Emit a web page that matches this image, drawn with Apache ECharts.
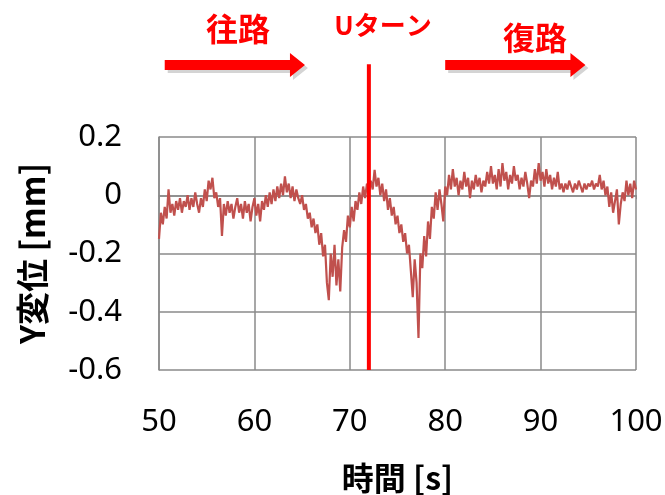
<!DOCTYPE html>
<html>
<head>
<meta charset="utf-8">
<script src="https://cdn.jsdelivr.net/npm/echarts@6/dist/echarts.min.js"></script>
<style>html, body {margin: 0; background: #fff} #chart {width: 665px; height: 495px}</style>
</head>
<body>
<div id="chart"></div>
<script>
// sampling: one value every 0.2 s from 50 s
var timeStart = 50, timeStep = 0.2
var yDisp = [
    -0.15, -0.06, -0.10, -0.04, -0.08, 0.02, -0.06, -0.03, -0.07, -0.02,
    -0.05, -0.01, -0.06, -0.02, -0.04, 0.00, -0.05, -0.01, -0.04, 0.01,
    -0.03, -0.06, -0.01, -0.04, 0.02, -0.02, 0.05, 0.02, 0.06, -0.01,
    0.01, -0.04, -0.01, -0.14, -0.03, -0.07, -0.02, -0.06, -0.03, -0.08,
    -0.04, -0.01, -0.06, -0.03, -0.08, -0.02, -0.06, -0.03, -0.09, -0.04,
    -0.01, -0.07, -0.03, -0.09, -0.02, -0.05, 0.00, -0.04, 0.01, -0.03,
    0.02, -0.02, 0.03, -0.01, 0.04, 0.00, 0.065, 0.01, 0.04, -0.01,
    0.03, -0.02, 0.02, -0.01, -0.03, 0.00, -0.05, -0.03, -0.08, -0.06,
    -0.11, -0.08, -0.13, -0.10, -0.17, -0.13, -0.21, -0.17, -0.30, -0.36,
    -0.20, -0.28, -0.17, -0.31, -0.22, -0.33, -0.18, -0.12, -0.16, -0.07,
    -0.11, -0.04, -0.09, -0.02, -0.05, 0.01, -0.03, 0.03, -0.01, 0.04,
    0.01, 0.05, 0.02, 0.087, 0.03, 0.06, 0.00, 0.04, -0.02, 0.02,
    -0.05, -0.01, -0.07, -0.04, -0.10, -0.07, -0.13, -0.10, -0.16, -0.13,
    -0.20, -0.17, -0.26, -0.35, -0.22, -0.30, -0.49, -0.20, -0.25, -0.14,
    -0.21, -0.09, -0.15, -0.04, -0.08, 0.01, -0.05, 0.02, -0.03, -0.09,
    0.03, 0.00, 0.07, 0.02, 0.09, 0.03, 0.06, 0.00, 0.05, 0.02,
    0.08, 0.03, 0.06, -0.01, 0.05, 0.02, 0.07, 0.03, 0.06, 0.01,
    0.05, 0.03, 0.08, 0.04, 0.10, 0.04, 0.07, 0.02, 0.09, 0.03,
    0.11, 0.05, 0.08, 0.02, 0.07, 0.04, 0.10, 0.05, 0.07, 0.02,
    0.06, 0.03, 0.08, 0.04, -0.01, 0.05, 0.03, 0.09, 0.04, 0.11,
    0.05, 0.08, 0.03, 0.09, 0.04, 0.07, 0.02, 0.06, 0.03, 0.08,
    0.02, 0.04, 0.01, 0.04, 0.02, 0.05, 0.03, 0.01, 0.04, 0.02,
    0.05, 0.03, 0.01, 0.04, 0.02, 0.04, 0.03, 0.05, 0.02, 0.04,
    0.03, 0.07, 0.02, 0.05, 0.00, 0.03, -0.04, 0.01, -0.06, -0.02,
    0.02, -0.10, -0.03, 0.01, -0.02, 0.05, 0.00, 0.04, -0.01, 0.05,
    0.02
]
var uTurnTime = 72, uTurnTop = 0.45
var outwardArrow = [50.6, 65.3], returnArrow = [80, 94.7]
var labels = {outward: "往路", uturn: "Uターン", back: "復路"}

var points = yDisp.map(function(v, i) {return [+(timeStart + i*timeStep).toFixed(1), v]})
var gridColor = "#8a8a8a", jp = '"Noto Sans CJK JP", "Noto Sans", sans-serif'

var chart = echarts.init(document.getElementById("chart"), null, {renderer: "canvas"})
chart.setOption({
    animation: false,
    grid: {left: 159, right: 29, top: 137, bottom: 125, outerBoundsMode: "none"},
    xAxis: {type: "value", min: 50, max: 100, interval: 10,
        name: "時間 [s]", nameLocation: "middle", nameGap: 92,
        nameTextStyle: {fontSize: 32, fontWeight: "bold", fontFamily: jp, color: "#000"},
        axisLine: {lineStyle: {color: gridColor, width: 1.5}},
        axisTick: {show: true, length: 4, lineStyle: {color: gridColor}},
        axisLabel: {fontSize: 31, color: "#000", fontFamily: "Noto Sans", margin: 37},
        splitLine: {show: true, lineStyle: {color: gridColor, width: 1.5}},
    },
    yAxis: {type: "value", min: -0.6, max: 0.2, interval: 0.2,
        name: "Y変位 [mm]", nameLocation: "middle", nameGap: 110, nameRotate: 90,
        nameTextStyle: {fontSize: 33, fontWeight: "bold", fontFamily: jp, color: "#000"},
        axisLine: {show: true, lineStyle: {color: gridColor, width: 1.5}},
        axisTick: {show: false},
        axisLabel: {fontSize: 31, color: "#000", fontFamily: "Noto Sans", margin: 37,
            formatter: function(v) {return +v.toFixed(1) + ""}},
        splitLine: {show: true, lineStyle: {color: gridColor, width: 1.5}},
    },
    series: [
        {type: "line", data: points, showSymbol: false, symbol: "none",
            lineStyle: {color: "#c0504d", width: 2.2}, z: 2},
        {type: "line", data: [[uTurnTime, -0.6], [uTurnTime, uTurnTop]], clip: false, symbol: "none",
            lineStyle: {color: "#ff0000", width: 4}, z: 3},
    ],
})

// arrows and labels above the plot
function arrowShape(x0, x1, y) {
    var h = 5, H = 12, L = 15
    return [[x0, y-h], [x1-L, y-h], [x1-L, y-H], [x1, y], [x1-L, y+H], [x1-L, y+h], [x0, y+h]]
}
function arrow(range) {
    var x0 = chart.convertToPixel({gridIndex: 0}, [range[0], 0])[0]
    var x1 = chart.convertToPixel({gridIndex: 0}, [range[1], 0])[0]
    return [
        {type: "polygon", x: 3, y: 3, shape: {points: arrowShape(x0, x1, 65)}, style: {fill: "#d4d4d4"}, z: 10},
        {type: "polygon", shape: {points: arrowShape(x0, x1, 65)}, style: {fill: "#ff0000"}, z: 11},
    ]
}
function label(text, x, y, size) {
    return {type: "text", x: x, y: y, z: 12, style: {text: text, fill: "#ff0000",
        font: "bold " + size + "px " + jp, align: "center", verticalAlign: "middle",
        textAlign: "center", textVerticalAlign: "middle"}}
}
chart.setOption({graphic: [].concat(arrow(outwardArrow), arrow(returnArrow), [
    label(labels.outward, 238, 29, 32),
    label(labels.uturn, 383, 25, 26),
    label(labels.back, 535, 38, 32),
])})
</script>
</body>
</html>
